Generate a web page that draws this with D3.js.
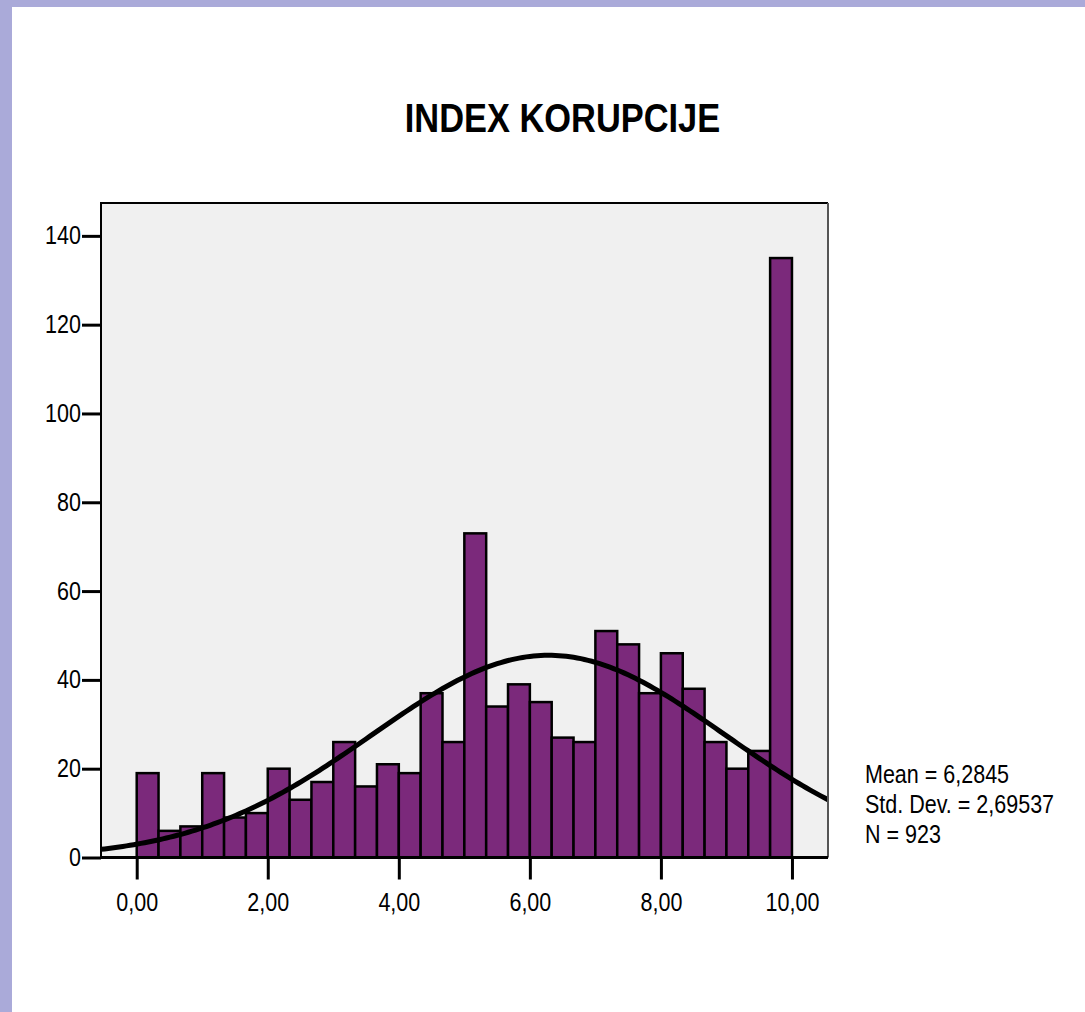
<!DOCTYPE html>
<html>
<head>
<meta charset="utf-8">
<script src="https://cdn.jsdelivr.net/npm/d3@7"></script>
<style>
  html, body { margin: 0; padding: 0; background: #aaaad9; }
  svg { display: block; font-family: "Liberation Sans", Arial, sans-serif; }
</style>
</head>
<body>
<svg id="chart" width="1085" height="1012"></svg>
<script>
// histogram counts, 30 bins of width 1/3 from 0 to 10
const counts = [19, 6, 7, 19, 9, 10, 20, 13, 17, 26, 16, 21, 19, 37, 26,
                73, 34, 39, 35, 27, 26, 51, 48, 37, 46, 38, 26, 20, 24, 135];
const binLo = 0, binHi = 10;
const xTicks = [0, 2, 4, 6, 8, 10];
const yTicks = [0, 20, 40, 60, 80, 100, 120, 140];
const stats = {mean: 6.2845, sd: 2.69537, n: 923};
const legendLines = ['Mean = 6,2845', 'Std. Dev. = 2,69537', 'N = 923'];
const title = 'INDEX KORUPCIJE';

const barFill = '#7b297b';
const squeeze = 0.86; // text in the original is rendered narrow

const svg = d3.select('svg#chart');

// white panel inside the lavender frame
svg.append('rect')
  .attr('x', 12).attr('y', 7)
  .attr('width', 1085 - 12).attr('height', 1012 - 7)
  .attr('fill', '#fff');

const plot = {left: 101, top: 203, right: 828, bottom: 857.5};

const x = d3.scaleLinear().domain([-0.545, 10.55]).range([plot.left, plot.right]);
const y = d3.scaleLinear().domain([0, 147.4]).range([plot.bottom, plot.top]);

svg.append('rect')
  .attr('x', plot.left).attr('y', plot.top)
  .attr('width', plot.right - plot.left).attr('height', plot.bottom - plot.top)
  .attr('fill', '#f0f0f0');

svg.append('clipPath').attr('id', 'clip')
  .append('rect')
  .attr('x', plot.left).attr('y', plot.top)
  .attr('width', plot.right - plot.left).attr('height', plot.bottom - plot.top);

const binW = (binHi - binLo) / counts.length;
const bins = counts.map((c, i) => ({x0: binLo + i * binW, x1: binLo + (i + 1) * binW, count: c}));

svg.append('g')
  .selectAll('rect')
  .data(bins)
  .enter().append('rect')
  .attr('x', d => x(d.x0))
  .attr('y', d => y(d.count))
  .attr('width', d => x(d.x1) - x(d.x0))
  .attr('height', d => y(0) - y(d.count))
  .attr('fill', barFill)
  .attr('stroke', '#000')
  .attr('stroke-width', 2.5);

// normal curve scaled to counts
const norm = v => stats.n * binW / (stats.sd * Math.sqrt(2 * Math.PI)) *
  Math.exp(-0.5 * Math.pow((v - stats.mean) / stats.sd, 2));
const [d0, d1] = x.domain();
const curvePts = d3.range(0, 201).map(i => d0 + (d1 - d0) * i / 200);

svg.append('path')
  .datum(curvePts)
  .attr('clip-path', 'url(#clip)')
  .attr('fill', 'none')
  .attr('stroke', '#000')
  .attr('stroke-width', 5)
  .attr('d', d3.line().x(v => x(v)).y(v => y(norm(v))));

// frame: left + top black, right grey
svg.append('path')
  .attr('d', `M${plot.left},${plot.bottom}V${plot.top}H${plot.right}`)
  .attr('fill', 'none').attr('stroke', '#000').attr('stroke-width', 2);
svg.append('line')
  .attr('x1', plot.right).attr('x2', plot.right)
  .attr('y1', plot.top).attr('y2', plot.bottom)
  .attr('stroke', '#555').attr('stroke-width', 2);

// axes
const yAxis = svg.append('g')
  .attr('transform', `translate(${plot.left},0)`)
  .call(d3.axisLeft(y).tickValues(yTicks).tickSize(19).tickPadding(1).tickSizeOuter(0));
yAxis.select('.domain').remove();
yAxis.selectAll('line').attr('stroke-width', 3);
yAxis.selectAll('text').attr('font-size', 25).attr('fill', '#000');

const xAxis = svg.append('g')
  .attr('transform', `translate(0,${plot.bottom})`)
  .call(d3.axisBottom(x).tickValues(xTicks).tickSize(22).tickPadding(14)
    .tickFormat(d => d.toFixed(2).replace('.', ',')));
xAxis.select('.domain').remove();
xAxis.selectAll('line').attr('stroke-width', 3);
xAxis.selectAll('text').attr('font-size', 25).attr('fill', '#000');

svg.append('line')
  .attr('x1', plot.left - 1).attr('x2', plot.right)
  .attr('y1', plot.bottom).attr('y2', plot.bottom)
  .attr('stroke', '#000').attr('stroke-width', 3);

// title
svg.append('text')
  .attr('x', 562.5).attr('y', 132)
  .attr('text-anchor', 'middle')
  .attr('font-size', 40)
  .attr('font-weight', 'bold')
  .text(title);

// stats legend
svg.append('g')
  .selectAll('text')
  .data(legendLines)
  .enter().append('text')
  .attr('x', 865)
  .attr('y', (d, i) => 783 + i * 30)
  .attr('font-size', 25)
  .text(d => d);

// condense all text horizontally
svg.selectAll('text').each(function() {
  const w = this.getComputedTextLength();
  d3.select(this)
    .attr('textLength', w * squeeze)
    .attr('lengthAdjust', 'spacingAndGlyphs');
});
</script>
</body>
</html>
